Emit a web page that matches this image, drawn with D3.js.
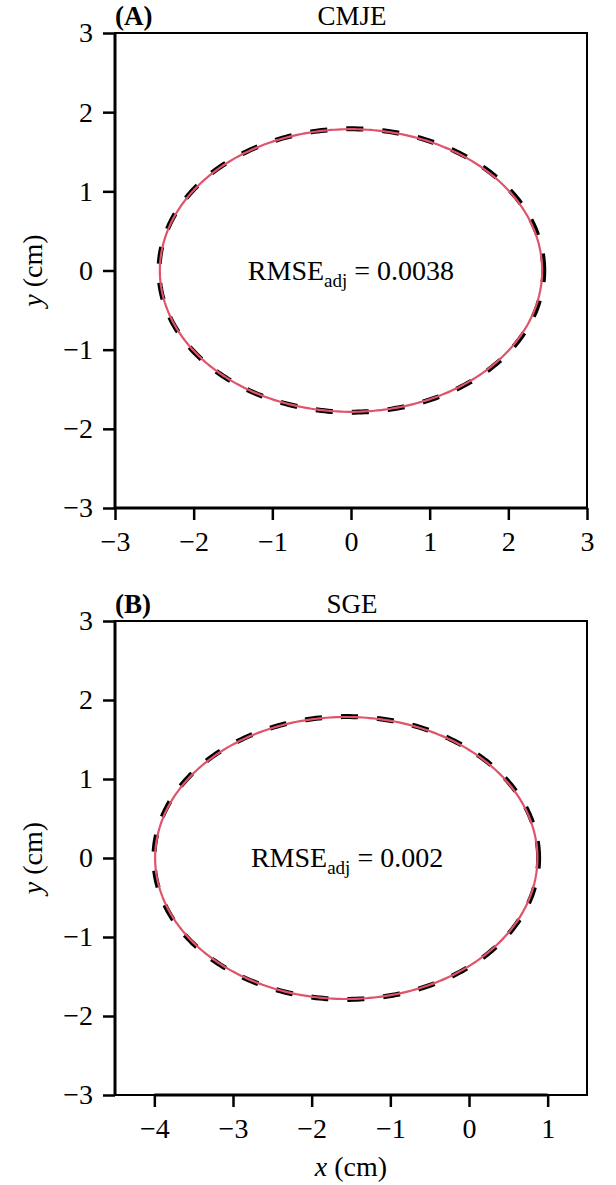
<!DOCTYPE html>
<html>
<head>
<meta charset="utf-8">
<script src="https://cdn.jsdelivr.net/npm/d3@7"></script>
<style>
  html, body { margin: 0; padding: 0; background: #fff; }
  svg { display: block; }
  text { font-family: "Liberation Serif", "Times New Roman", serif; fill: #000; }
</style>
</head>
<body>
<svg id="chart" width="616" height="1185"></svg>
<script>
// ---- data ----
const panelLabels = ["(A)", "(B)"];
const panelTitles = ["CMJE", "SGE"];
const xDomains = [[-3, 3], [-4.5, 1.5]];
const yDomain = [-3, 3];
const xTicks = [[-3, -2, -1, 0, 1, 2, 3], [-4, -3, -2, -1, 0, 1]];
const yTicks = [-3, -2, -1, 0, 1, 2, 3];
const rmseValues = ["0.0038", "0.002"];
// reference (dashed) ellipse: centre x, centre y, semi-axis x, semi-axis y
const refCx = [0.005, -1.56];
const refCy = [0, 0];
const refA = [2.445, 2.445];
const refB = [1.79, 1.79];
// fitted (red) ellipse
const fitCx = [0.0, -1.56];
const fitCy = [0, 0];
const fitA = [2.43, 2.43];
const fitB = [1.785, 1.785];

// ---- layout ----
const svg = d3.select("#chart");
const left = 115, right = 587;
const tops = [33, 621], bottoms = [508, 1095];
const fs = 28;
const fmt = v => (v < 0 ? "\u2212" + Math.abs(v) : String(v));
const angles = d3.range(0, 361, 1).map(d => d * Math.PI / 180);

panelLabels.forEach((lab, i) => {
  const x = d3.scaleLinear().domain(xDomains[i]).range([left, right]);
  const y = d3.scaleLinear().domain(yDomain).range([bottoms[i], tops[i]]);
  const g = svg.append("g");

  // box
  g.append("rect")
    .attr("x", left).attr("y", tops[i])
    .attr("width", right - left).attr("height", bottoms[i] - tops[i])
    .attr("fill", "none").attr("stroke", "#000").attr("stroke-width", 2);

  // ellipses
  const line = d3.line().x(d => x(d[0])).y(d => y(d[1]));
  const refPts = angles.map(t => [refCx[i] + refA[i] * Math.cos(t), refCy[i] + refB[i] * Math.sin(t)]);
  const fitPts = angles.map(t => [fitCx[i] + fitA[i] * Math.cos(t), fitCy[i] + fitB[i] * Math.sin(t)]);
  g.append("path").attr("d", line(refPts))
    .attr("fill", "none").attr("stroke", "#000").attr("stroke-width", 5)
    .attr("stroke-dasharray", "17,19");
  g.append("path").attr("d", line(fitPts))
    .attr("fill", "none").attr("stroke", "#DF536B").attr("stroke-width", 2.2);

  // axes
  const xAxis = d3.axisBottom(x).tickValues(xTicks[i]).tickSize(12).tickPadding(11).tickFormat(fmt);
  const gx = g.append("g").attr("transform", `translate(0,${bottoms[i]})`).call(xAxis);
  const yAxis = d3.axisLeft(y).tickValues(yTicks).tickSize(12).tickPadding(10).tickFormat(fmt);
  const gy = g.append("g").attr("transform", `translate(${left},0)`).call(yAxis);
  [gx, gy].forEach(a => {
    a.select(".domain").remove();
    a.selectAll(".tick line").attr("stroke", "#000").attr("stroke-width", 2.5);
    a.selectAll(".tick text").attr("font-size", fs).attr("font-family", "Liberation Serif").attr("fill", "#000");
  });
  // axis lines spanning tick range
  const xt = xTicks[i];
  g.append("line").attr("x1", x(xt[0])).attr("x2", x(xt[xt.length - 1]))
    .attr("y1", bottoms[i]).attr("y2", bottoms[i]).attr("stroke", "#000").attr("stroke-width", 3);
  g.append("line").attr("x1", left).attr("x2", left)
    .attr("y1", y(yTicks[0])).attr("y2", y(yTicks[yTicks.length - 1])).attr("stroke", "#000").attr("stroke-width", 3);

  // labels
  g.append("text").attr("x", left).attr("y", tops[i] - 8)
    .attr("font-size", 27).attr("font-weight", "bold").text(lab);
  g.append("text").attr("x", (left + right) / 2 + 1).attr("y", tops[i] - 8)
    .attr("text-anchor", "middle").attr("font-size", 27).text(panelTitles[i]);

  const rt = g.append("text").attr("x", x((xDomains[i][0] + xDomains[i][1]) / 2 + (i === 0 ? 0 : -0.05)))
    .attr("y", y(0) + 9).attr("text-anchor", "middle").attr("font-size", 28);
  rt.append("tspan").text("RMSE");
  rt.append("tspan").attr("font-size", 19).attr("dy", 7).text("adj");
  rt.append("tspan").attr("dy", -7).text(" = " + rmseValues[i]);

  // y label
  const yl = g.append("text")
    .attr("transform", `translate(42,${y(0)}) rotate(-90)`)
    .attr("text-anchor", "middle").attr("font-size", fs);
  yl.append("tspan").attr("font-style", "italic").text("y");
  yl.append("tspan").text(" (cm)");
});

// x label (bottom panel only)
const xl = svg.append("text").attr("x", 351).attr("y", 1176)
  .attr("text-anchor", "middle").attr("font-size", fs);
xl.append("tspan").attr("font-style", "italic").text("x");
xl.append("tspan").text(" (cm)");
</script>
</body>
</html>
